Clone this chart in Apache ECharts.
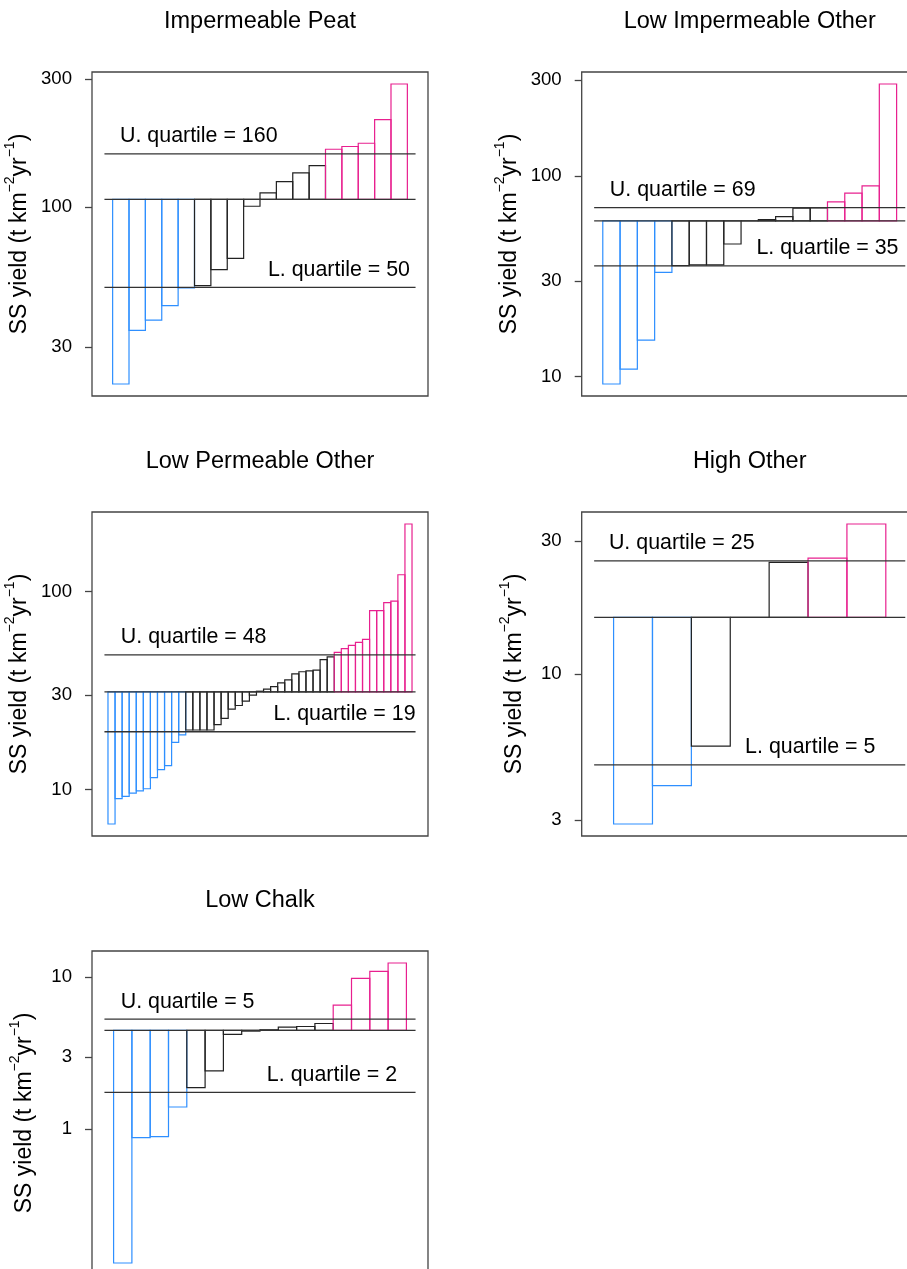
<!DOCTYPE html>
<html>
<head>
<meta charset="utf-8">
<script src="https://cdn.jsdelivr.net/npm/echarts@6/dist/echarts.min.js"></script>
<style>
  html, body { margin: 0; padding: 0; background: #fff; }
  #chart { width: 907px; height: 1269px; }
</style>
</head>
<body>
<div id="chart"></div>
<script>
// panel titles
const titles = ['Impermeable Peat', 'Low Impermeable Other', 'Low Permeable Other', 'High Other', 'Low Chalk'];

// SS yield per catchment, sorted (t km-2 yr-1)
const peatValues = [21.8, 34.6, 37.8, 42.8, 49.8, 50.8, 58.3, 64.2, 100.6, 112.8, 124.4, 134, 142.8, 164.3, 168.2, 173, 212, 288];
const lowImpOtherValues = [9.19, 10.9, 15.2, 33.1, 35.7, 36.0, 36.0, 45.8, 59.7, 60.6, 62.7, 69.0, 69.3, 74.2, 82, 89.1, 287];
const lowPermOtherValues = [6.7, 9.0, 9.25, 9.6, 9.85, 10.1, 11.5, 12.6, 13.2, 17.3, 18.9,
  20.0, 20.0, 20.0, 20.0, 21.3, 22.9, 25.5, 26.6, 28.0, 30.0, 31.4, 32.2, 33.1, 34.6, 35.8, 38.4, 39.4, 39.8, 40.1, 45.4, 46.8,
  49.4, 51.5, 53.6, 55.5, 57.4, 80.2, 80.2, 88, 89.7, 121.8, 219.8];
const highOtherValues = [2.905, 3.99, 5.53, 16.0, 25.2, 26.1, 34.6];
const lowChalkValues = [0.132, 0.881, 0.895, 1.403, 1.883, 2.424, 4.21, 4.43, 4.52, 4.70, 4.75, 4.97, 6.57, 9.85, 10.95, 12.43];

// median (bar baseline) and quartiles
const medians = [106.7, 59.7, 31.2, 16.0, 4.48];
const upperQuartiles = [158, 69.5, 47.9, 25.5, 5.31];
const lowerQuartiles = [50.1, 35.6, 19.6, 4.73, 1.75];
const upperLabels = [160, 69, 48, 25, 5];
const lowerLabels = [50, 35, 19, 5, 2];

// y tick labels
const yTicks = [[30, 100, 300], [10, 30, 100, 300], [10, 30, 100], [3, 10, 30], [1, 3, 10]];

const allValues = [peatValues, lowImpOtherValues, lowPermOtherValues, highOtherValues, lowChalkValues];

// layout
const gridLeft = [92, 581.7, 92, 581.7, 92];
const gridTop = [72, 72, 512, 512, 951];
const gridW = 336, gridH = 324;
// label anchors in bar units (U label left edge, L label right edge)
const upperLabelX = [0.45, 0.41, 1.82, -0.12, 0.39];
const lowerLabelX = [18.16, 17.11, 43.5, 6.73, 15.49];

const BLUE = '#2e8fff', PINK = '#e8208f', DARK = '#222', LINE = '#333';
const FONT = 'Liberation Sans, Arial, Helvetica, sans-serif';
const lg = v => Math.log10(v);

const chart = echarts.init(document.getElementById('chart'));

let grid = [], xAxis = [], yAxis = [], series = [], title = [];

allValues.forEach((vals, k) => {
  const n = vals.length;
  const lmed = lg(medians[k]), lu = lg(upperQuartiles[k]), ll = lg(lowerQuartiles[k]);
  // R style 4% padding
  const lmin = Math.min(...vals.map(lg)), lmax = Math.max(...vals.map(lg));
  const ypad = (lmax - lmin) * 0.04;
  const xpad = (n + 1) * 0.04;

  title.push({
    text: titles[k],
    left: gridLeft[k] + gridW / 2,
    top: gridTop[k] - 62,
    textAlign: 'center',
    padding: 0,
    textStyle: { fontFamily: FONT, fontSize: 23.5, fontWeight: 'normal', color: '#000' }
  });

  grid.push({
    left: gridLeft[k], top: gridTop[k], width: gridW, height: gridH,
    show: true, borderColor: '#444', borderWidth: 1.3, backgroundColor: 'transparent',
    containLabel: false, outerBoundsMode: 'none'
  });

  xAxis.push({
    gridIndex: k, type: 'value',
    min: -0.5 - xpad, max: n + 0.5 + xpad,
    show: false
  });

  yAxis.push({
    gridIndex: k, type: 'value',
    min: lmin - ypad, max: lmax + ypad,
    name: 'SS yield (t km{sup|−2}yr{sup|−1})',
    nameLocation: 'middle', nameRotate: 90, nameGap: 50,
    nameTextStyle: {
      fontFamily: FONT, fontSize: 23, color: '#000', lineHeight: 34,
      rich: { sup: { fontFamily: FONT, fontSize: 14, verticalAlign: 'top', lineHeight: 14, color: '#000' } }
    },
    axisLine: { show: false, onZero: false },
    splitLine: { show: false },
    axisTick: { show: true, inside: false, length: 7, lineStyle: { color: '#444', width: 1.3 }, customValues: yTicks[k].map(lg) },
    axisLabel: {
      customValues: yTicks[k].map(lg), margin: 20,
      fontFamily: FONT, fontSize: 18.6, color: '#000',
      formatter: v => String(Math.round(Math.pow(10, v)))
    }
  });

  // bars from median to value
  series.push({
    type: 'custom', xAxisIndex: k, yAxisIndex: k, z: 2,
    data: vals.map((v, i) => [i, lg(v)]),
    renderItem: (params, api) => {
      const i = api.value(0), lv = api.value(1);
      const v = Math.pow(10, lv);
      const color = v < lowerQuartiles[k] ? BLUE : (v > upperQuartiles[k] ? PINK : DARK);
      const p0 = api.coord([i, lmed]), p1 = api.coord([i + 1, lv]);
      return {
        type: 'rect',
        shape: { x: p0[0], y: Math.min(p0[1], p1[1]), width: p1[0] - p0[0], height: Math.abs(p1[1] - p0[1]) },
        style: { fill: 'none', stroke: color, lineWidth: 1.2 }
      };
    }
  });

  // median and quartile lines
  [lmed, lu, ll].forEach(ly => {
    series.push({
      type: 'line', xAxisIndex: k, yAxisIndex: k, z: 3,
      data: [[-0.5, ly], [n + 0.5, ly]],
      symbol: 'none', silent: true,
      lineStyle: { color: LINE, width: 1.3 }
    });
  });

  // quartile labels
  series.push({
    type: 'scatter', xAxisIndex: k, yAxisIndex: k, z: 4, symbolSize: 0, silent: true,
    itemStyle: { opacity: 1 },
    data: [
      { value: [upperLabelX[k], lu], label: { formatter: 'U. quartile = ' + upperLabels[k], align: 'left' } },
      { value: [lowerLabelX[k], ll], label: { formatter: 'L. quartile = ' + lowerLabels[k], align: 'right' } }
    ],
    label: {
      show: true, position: [0, -17.5], verticalAlign: 'middle', opacity: 1,
      fontFamily: FONT, fontSize: 21.4, color: '#000'
    }
  });
});

chart.setOption({
  animation: false,
  backgroundColor: '#fff',
  title, grid, xAxis, yAxis, series
});
</script>
</body>
</html>
